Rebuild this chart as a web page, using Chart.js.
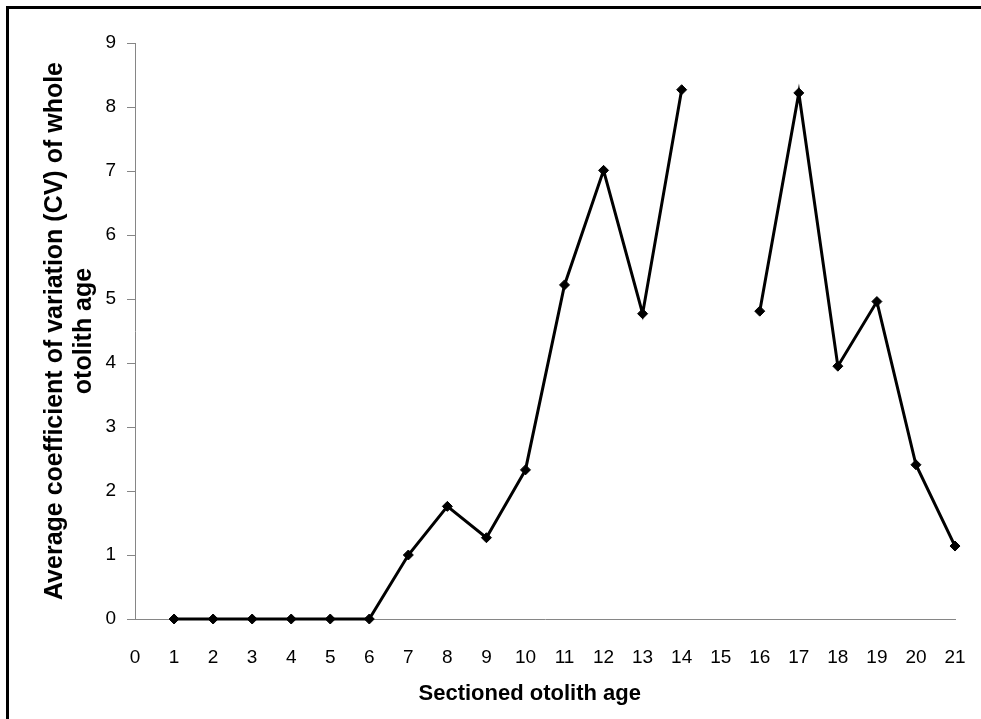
<!DOCTYPE html>
<html>
<head>
<meta charset="utf-8">
<script src="https://cdn.jsdelivr.net/npm/chart.js@4"></script>
<style>
  html, body { margin: 0; padding: 0; background: #fff; overflow: hidden; }
  #frame { position: absolute; left: 6px; top: 6px; width: 1200px; height: 1000px; border-left: 3px solid #000; border-top: 3px solid #000; }
  #myChart { position: absolute; left: 0; top: 0; }
</style>
</head>
<body>
<div id="frame"></div>
<canvas id="myChart" width="981" height="719"></canvas>
<script>
'use strict'

// sectioned otolith age (x) and average CV of whole otolith age (y)
const ages = [1, 2, 3, 4, 5, 6, 7, 8, 9, 10, 11, 12, 13, 14, 15, 16, 17, 18, 19, 20, 21];
const cvValues = [0, 0, 0, 0, 0, 0, 1.0, 1.76, 1.27, 2.33, 5.22, 7.01, 4.77, 8.27, null, 4.81, 8.22, 3.95, 4.96, 2.41, 1.14];
const xTicks = [0, 21];
const yTicks = [0, 9];

const fontName = "'Liberation Sans', Arial, sans-serif";
const nb = '\u00a0';

const points = ages.map((a, i) => ({ x: a, y: cvValues[i] }));

let ctx = document.getElementById('myChart').getContext('2d');
let chart = new Chart(ctx, {
  type: 'line',
  data: {
    datasets: [{
      data: points,
      borderColor: '#000',
      backgroundColor: '#000',
      borderWidth: 3,
      pointStyle: 'rectRot',
      pointRadius: 5,
      pointBorderWidth: 1,
      pointBackgroundColor: '#000',
      pointBorderColor: '#000',
      tension: 0,
      spanGaps: false,
      clip: false
    }]
  },
  options: {
    responsive: false,
    animation: false,
    layout: { padding: { left: 0, right: 26, top: 43, bottom: 0 } },
    plugins: {
      legend: { display: false },
      tooltip: { enabled: false }
    },
    scales: {
      x: {
        type: 'linear',
        min: xTicks[0],
        max: xTicks[1],
        afterFit: (scale) => {
          scale.height = 100;
          scale.paddingLeft = 0;
          scale.paddingRight = 0;
        },
        grid: { drawOnChartArea: false, drawTicks: false },
        border: { display: true, color: '#868686', width: 1 },
        ticks: {
          stepSize: 1,
          padding: 27,
          color: '#000',
          font: { family: fontName, size: 19 }
        },
        title: {
          display: true,
          text: 'Sectioned otolith age' + nb.repeat(5),
          color: '#000',
          font: { family: fontName, size: 22, weight: 'bold', lineHeight: 1.333 },
          padding: { top: 0, bottom: 10 }
        }
      },
      y: {
        min: yTicks[0],
        max: yTicks[1],
        afterFit: (scale) => { scale.width = 135; },
        grid: { drawOnChartArea: false, drawTicks: true, tickLength: 8, color: '#868686' },
        border: { display: true, color: '#868686', width: 1 },
        ticks: {
          stepSize: 1,
          padding: 11,
          color: '#000',
          font: { family: fontName, size: 19 }
        },
        title: {
          display: true,
          text: ['Average coefficient of variation (CV) of whole', 'otolith age'],
          color: '#000',
          font: { family: fontName, size: 25, weight: 'bold', lineHeight: 1.15 },
          padding: { top: 41, bottom: 0 }
        }
      }
    }
  }
});
</script>
</body>
</html>
